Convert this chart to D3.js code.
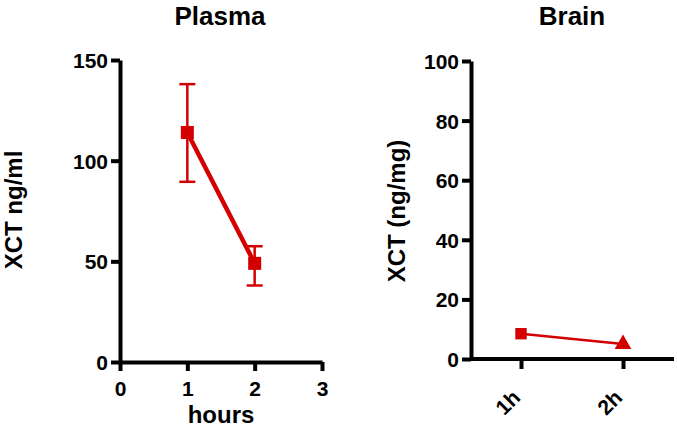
<!DOCTYPE html>
<html>
<head>
<meta charset="utf-8">
<script src="https://cdn.jsdelivr.net/npm/d3@7"></script>
<style>
  body { margin: 0; background: #fff; }
  svg text { font-family: "Liberation Sans", Arial, sans-serif; font-weight: bold; }
</style>
</head>
<body>
<svg width="677" height="430"></svg>
<script>
// plasma data
const plasmaHours = [1, 2]
const plasmaMean = [114, 49]
const plasmaLow = [89.5, 38]
const plasmaHigh = [138, 57.5]
const plasmaTicks = [0, 50, 100, 150]
const hourTicks = [0, 1, 2, 3]

// brain data
const brainCats = ['1h', '2h']
const brainMean = [8.5, 5]
const brainTicks = [0, 20, 40, 60, 80, 100]

const red = '#d40000'
const svg = d3.select('svg')

function styleAxis(a) {
    a.attr('font-size', null).attr('font-family', null)
    a.select('.domain').attr('stroke', '#000').attr('stroke-width', 4)
    a.selectAll('.tick line').attr('stroke', '#000').attr('stroke-width', 4)
    a.selectAll('.tick text').attr('font-size', 21).attr('fill', '#000')
}

// ---- Plasma panel ----
const x1 = d3.scaleLinear().domain([0, 3]).range([120, 322])
const y1 = d3.scaleLinear().domain([0, 150]).range([362, 60])

const yAx1 = svg.append('g')
    .attr('transform', 'translate(120,0)')
    .call(d3.axisLeft(y1).tickValues(plasmaTicks).tickSize(9).tickSizeOuter(0).tickFormat(d3.format('d')))
const xAx1 = svg.append('g')
    .attr('transform', 'translate(0,362)')
    .call(d3.axisBottom(x1).tickValues(hourTicks).tickSize(9).tickSizeOuter(0).tickFormat(d3.format('d')))

styleAxis(yAx1)
styleAxis(xAx1)
yAx1.selectAll('.tick text').attr('x', -12).attr('dy', '0.36em')
xAx1.selectAll('.tick text').attr('y', 19)

// error bars
plasmaHours.forEach((h, i) => {
    const g = svg.append('g').attr('stroke', red).attr('stroke-width', 2.5)
    g.append('line')
        .attr('x1', x1(h)).attr('x2', x1(h))
        .attr('y1', y1(plasmaLow[i])).attr('y2', y1(plasmaHigh[i]))
    ;[plasmaLow[i], plasmaHigh[i]].forEach(v => {
        g.append('line')
            .attr('x1', x1(h) - 8).attr('x2', x1(h) + 8)
            .attr('y1', y1(v)).attr('y2', y1(v))
    })
})

svg.append('path')
    .datum(plasmaHours.map((h, i) => [h, plasmaMean[i]]))
    .attr('d', d3.line().x(d => x1(d[0])).y(d => y1(d[1])))
    .attr('fill', 'none')
    .attr('stroke', red)
    .attr('stroke-width', 4.5)

svg.selectAll('.psq')
    .data(plasmaHours.map((h, i) => [h, plasmaMean[i]]))
    .join('rect')
        .attr('x', d => x1(d[0]) - 6.5)
        .attr('y', d => y1(d[1]) - 6.5)
        .attr('width', 13)
        .attr('height', 13)
        .attr('fill', red)

svg.append('text')
    .attr('x', 220).attr('y', 25)
    .attr('text-anchor', 'middle')
    .attr('font-size', 26)
    .text('Plasma')

svg.append('text')
    .attr('x', 221).attr('y', 423)
    .attr('text-anchor', 'middle')
    .attr('font-size', 24)
    .text('hours')

svg.append('text')
    .attr('transform', 'translate(22,210) rotate(-90)')
    .attr('text-anchor', 'middle')
    .attr('font-size', 24)
    .text('XCT ng/ml')

// ---- Brain panel ----
const x2 = d3.scalePoint().domain(brainCats).range([521, 623])
const y2 = d3.scaleLinear().domain([0, 100]).range([359, 61])

const yAx2 = svg.append('g')
    .attr('transform', 'translate(471,0)')
    .call(d3.axisLeft(y2).tickValues(brainTicks).tickSize(9).tickSizeOuter(0))
const xAx2 = svg.append('g')
    .attr('transform', 'translate(0,359)')
    .call(d3.axisBottom(x2).tickSize(10).tickSizeOuter(0))

xAx2.select('.domain').attr('d', 'M471,0H674')

styleAxis(yAx2)
styleAxis(xAx2)
yAx2.selectAll('.tick text').attr('x', -12).attr('dy', '0.36em')
xAx2.selectAll('.tick text')
    .attr('y', 0).attr('dy', 0)
    .attr('text-anchor', 'end')
    .attr('transform', 'translate(0,40) rotate(-45)')

const brainPts = brainCats.map((c, i) => [c, brainMean[i]])

svg.append('path')
    .datum(brainPts)
    .attr('d', d3.line().x(d => x2(d[0])).y(d => y2(d[1])))
    .attr('fill', 'none')
    .attr('stroke', red)
    .attr('stroke-width', 2.5)

svg.append('path')
    .attr('d', d3.symbol(d3.symbolSquare, 130)())
    .attr('transform', `translate(${x2(brainPts[0][0])},${y2(brainPts[0][1])})`)
    .attr('fill', red)
svg.append('path')
    .attr('d', d3.symbol(d3.symbolTriangle, 120)())
    .attr('transform', `translate(${x2(brainPts[1][0])},${y2(brainPts[1][1])})`)
    .attr('fill', red)

svg.append('text')
    .attr('x', 572).attr('y', 25)
    .attr('text-anchor', 'middle')
    .attr('font-size', 26)
    .text('Brain')

svg.append('text')
    .attr('transform', 'translate(405,211) rotate(-90)')
    .attr('text-anchor', 'middle')
    .attr('font-size', 24)
    .text('XCT (ng/mg)')
</script>
</body>
</html>
